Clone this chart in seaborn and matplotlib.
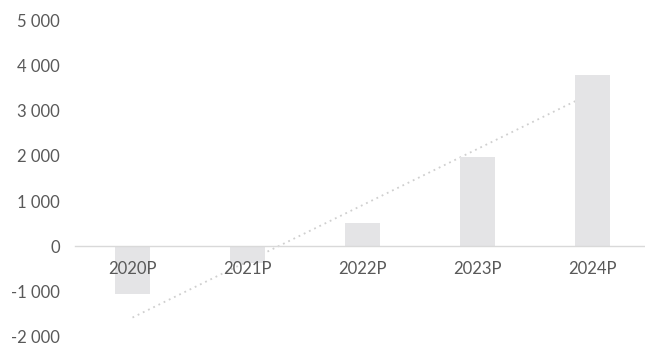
import matplotlib
matplotlib.use("Agg")
import matplotlib.pyplot as plt
import matplotlib.ticker as mticker
import seaborn as sns
import pandas as pd

categories = ["2020P", "2021P", "2022P", "2023P", "2024P"]
values = [-1060, -380, 520, 1980, 3800]
trend_x = [0, 4]
trend_y = [-1580, 3400]
y_ticks = [-2000, -1000, 0, 1000, 2000, 3000, 4000, 5000]

sns.set_theme(style="white")
plt.rcParams["font.family"] = ["Lato", "DejaVu Sans"]

fig = plt.figure(figsize=(6.45, 3.45), dpi=100)
ax = fig.add_axes([75 / 645, 8.5 / 345, 575 / 645, 316 / 345])

df = pd.DataFrame({"cat": categories, "val": values})
sns.barplot(data=df, x="cat", y="val", color="#e4e4e6", saturation=1,
            width=0.31, ax=ax, zorder=2)
for p in ax.patches:
    p.set_edgecolor("none")

sns.lineplot(x=trend_x, y=trend_y, ax=ax, color="#cfcfcf", linewidth=1.3,
             linestyle=(0, (1, 2.2)), zorder=1)

ax.set_xlim(-0.5, 4.5)
ax.set_ylim(-2000, 5000)
ax.set_yticks(y_ticks)
ax.yaxis.set_major_formatter(mticker.FuncFormatter(
    lambda v, _: f"{int(v):,}".replace(",", " ")))

for s in ["top", "right", "left"]:
    ax.spines[s].set_visible(False)
ax.spines["bottom"].set_position(("data", 0))
ax.spines["bottom"].set_color("#d9d9d9")
ax.spines["bottom"].set_linewidth(1.0)
ax.spines["bottom"].set_zorder(3)
ax.set_axisbelow(False)
ax.xaxis.set_zorder(4)
ax.yaxis.set_zorder(4)

ax.tick_params(axis="x", length=0, pad=11, labelsize=12, colors="#595959")
ax.tick_params(axis="y", length=0, pad=11, labelsize=12, colors="#595959")
ax.set_xlabel("")
ax.set_ylabel("")
ax.grid(False)
ax.patch.set_alpha(0)

fig.savefig("out.png", dpi=100)
